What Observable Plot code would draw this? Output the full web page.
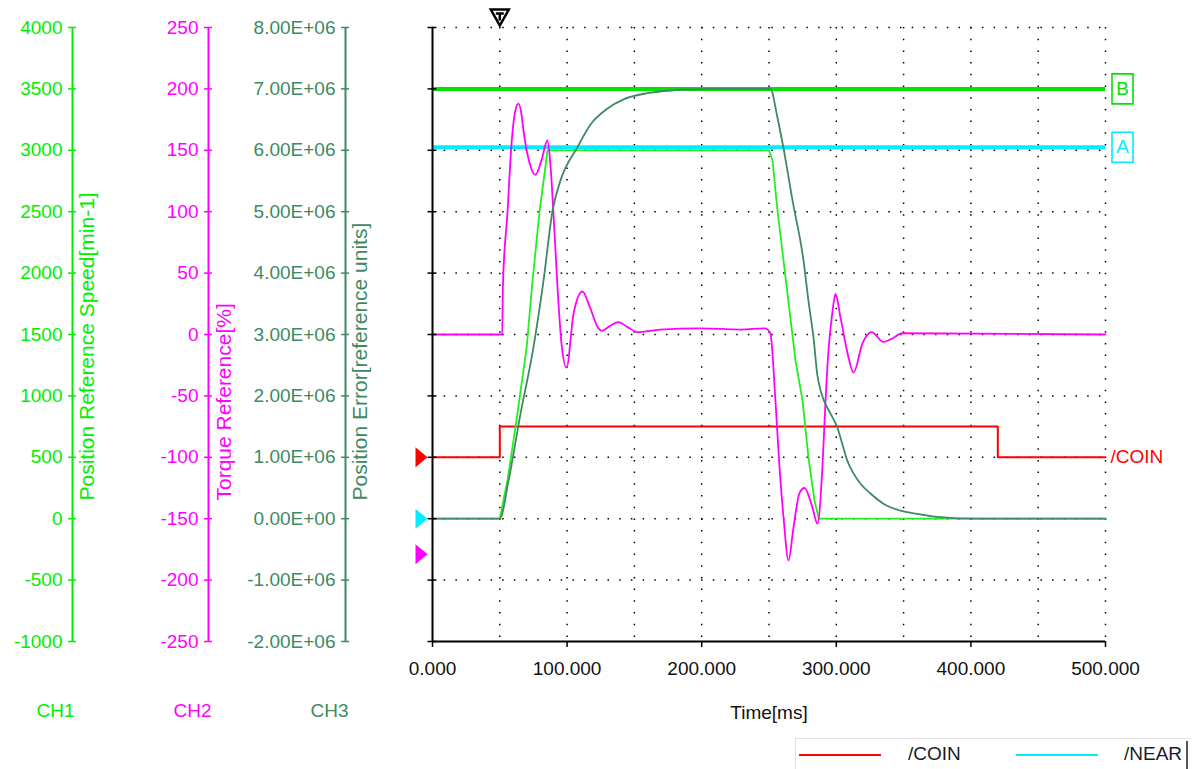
<!DOCTYPE html>
<html><head><meta charset="utf-8">
<script src="https://cdn.jsdelivr.net/npm/d3@7"></script>
<script src="https://cdn.jsdelivr.net/npm/@observablehq/plot@0.6"></script>
<style>
body{margin:0;background:#fff;width:1194px;height:769px;overflow:hidden;position:relative;font-family:"Liberation Sans",Arial,sans-serif;}
#chart svg{display:block;}
#legend{position:absolute;left:795px;top:738px;width:395px;height:40px;border-top:1px solid #e2e2e2;border-left:1px solid #e2e2e2;font-size:19px;color:#1b1b2b;}
#legend .ln{position:absolute;top:15px;height:2px;width:82px;}
#legend .tx{position:absolute;top:4px;}
#legend .edge{position:absolute;left:390px;top:2px;width:2px;height:40px;background:#555;}
</style></head><body>
<div id="chart"></div>
<div id="legend">
  <div class="ln" style="left:3px;background:#ff0000"></div>
  <div class="tx" style="left:112px">/COIN</div>
  <div class="ln" style="left:220px;background:#00eeff"></div>
  <div class="tx" style="left:328px">/NEAR</div>
  <div class="edge"></div>
</div>
<script>
// ---------- data ----------
const timeTicks = [0, 100, 200, 300, 400, 500];
const gridTimes = [50, 100, 150, 200, 250, 300, 350, 400, 450, 500];
const ch1Ticks = [-1000, -500, 0, 500, 1000, 1500, 2000, 2500, 3000, 3500, 4000];
const ch2Ticks = [-250, -200, -150, -100, -50, 0, 50, 100, 150, 200, 250];
const ch3Ticks = [-2e6, -1e6, 0, 1e6, 2e6, 3e6, 4e6, 5e6, 6e6, 7e6, 8e6];

// CH1 Position Reference Speed [min-1]
const speedTime  = [0, 50, 56, 63, 70, 74, 79.5, 85.5, 250, 252.6, 256.3, 262.3, 269.7, 274.9, 279.3, 283.8, 287, 500];
const speedValue = [0, 0, 330, 850, 1400, 1900, 2500, 3000, 3000, 2917, 2510, 1964, 1288, 963, 498, 148, 0, 0];

// CH2 Torque Reference [%]
const torqueTime  = [0, 51.8, 52.3, 55.7, 58.7, 61.5, 63.9, 66, 67.6, 72, 76.5, 81, 85.4, 87.5, 89.9, 92.9, 95.8, 99.6, 104.8, 111.4, 117, 123.3, 125.7, 132, 138, 145, 152, 169, 199, 229, 247, 251, 254.8, 257.8, 260.8, 264.5, 268.2, 272.7, 276.4, 282.3, 286, 289.7, 292, 294.2, 297.2, 299.4, 303.1, 308.3, 312.8, 319.5, 326.2, 335.1, 340.3, 349.2, 500];
const torqueValue = [0, 0, 40, 99, 155, 182, 188, 180, 166, 140, 130, 142, 158, 140, 98, 38, -7, -27, 17, 35, 22, 5, 3, 7, 10, 6, 2, 4, 5, 4, 5, 1, -54, -108, -149, -184, -157, -129, -125, -141, -154, -108, -54, -13, 19, 33, 14, -15, -31, -7, 2, -6, -4, 1, 0];

// CH3 Position Error [reference units]
const errorTime  = [0, 50, 56.5, 65.4, 75, 82.5, 89.2, 95.1, 107.7, 117.4, 130, 141.9, 159.7, 174.6, 189.4, 206.5, 251, 256.3, 260.8, 267.5, 275.6, 279.3, 283.3, 285.8, 288.3, 290.7, 295.7, 300.7, 304.4, 308.1, 313, 318, 325.4, 335.3, 347.7, 360.1, 375, 405, 500];
const errorValue = [0, 0, 0.62e6, 1.71e6, 2.79e6, 3.88e6, 5.02e6, 5.51e6, 6.05e6, 6.42e6, 6.68e6, 6.83e6, 6.93e6, 6.97e6, 6.99e6, 7.0e6, 7.0e6, 6.53e6, 6.03e6, 5.18e6, 4.21e6, 3.55e6, 2.90e6, 2.36e6, 2.09e6, 1.93e6, 1.71e6, 1.49e6, 1.22e6, 0.95e6, 0.73e6, 0.57e6, 0.41e6, 0.24e6, 0.13e6, 0.08e6, 0.03e6, 0, 0];

// /COIN digital signal
const coinTime  = [0, 50, 420, 500];
const coinState = [0, 1, 0, 0];

// cursors (CH3 units)
const cursorNames  = ["B", "A"];
const cursorValues = [7.0e6, 6.05e6];
const triggerTime = 50;
// channel offset markers (CH1 units)
const markerLevels = [500, 0, -290];

// ---------- styles ----------
const FONT = "'Liberation Sans', Arial, sans-serif";
const C1 = "#00ee00", C2 = "#ff00ff", C3 = "#3d8a62", RED = "#ff0000", CYAN = "#00eeff", BGREEN = "#00e400";

// channel mappings onto the shared (CH1) vertical scale
const y2 = v => 10 * v + 1500;     // torque % -> CH1 units
const y3 = v => v * 5e-4;          // position error -> CH1 units
const yCoin = s => 500 + 250 * s;

function fmtE(v) {
  if (v === 0) return "0.00E+00";
  const e = Math.floor(Math.log10(Math.abs(v)));
  const m = v / Math.pow(10, e);
  return m.toFixed(2) + "E" + (e < 0 ? "-" : "+") + String(Math.abs(e)).padStart(2, "0");
}

const triRight = {draw(ctx) { ctx.moveTo(-6, -10); ctx.lineTo(6, 0); ctx.lineTo(-6, 10); ctx.closePath(); }};
const boxSym = {draw(ctx) { ctx.moveTo(-10.5, -15); ctx.lineTo(10.5, -15); ctx.lineTo(10.5, 15); ctx.lineTo(-10.5, 15); ctx.closePath(); }};
const trigSym = {draw(ctx) {
  ctx.moveTo(-9, -7); ctx.lineTo(9, -7); ctx.lineTo(0, 9); ctx.closePath();
  ctx.moveTo(-4, -3); ctx.lineTo(4, -3); ctx.moveTo(0, -3); ctx.lineTo(0, 4);
}};

const idx = a => d3.range(a.length);
const dotGrid = {stroke: "#000", strokeWidth: 1.5, strokeDasharray: "1.5,10.2"};

const chart = Plot.plot({
  width: 1194, height: 736,
  marginLeft: 432, marginRight: 89, marginTop: 27, marginBottom: 95,
  x: {domain: [0, 500], axis: null},
  y: {domain: [-1000, 4000], axis: null},
  style: {fontFamily: FONT, fontSize: "19px", background: "#fff", color: "#000", overflow: "visible"},
  marks: [
    // dotted grid
    Plot.ruleX(gridTimes, dotGrid),
    Plot.ruleY(ch1Ticks.filter(d => d > -1000), dotGrid),

    // cursors
    Plot.ruleY(idx(cursorValues), {y: i => y3(cursorValues[i]), stroke: i => i === 0 ? BGREEN : CYAN, strokeWidth: 4}),

    // signals
    Plot.line(idx(coinTime), {x: i => coinTime[i], y: i => yCoin(coinState[i]), curve: "step-after", stroke: RED, strokeWidth: 2}),
    Plot.line(idx(speedTime), {x: i => speedTime[i], y: i => speedValue[i], stroke: "#22ee22", strokeWidth: 1.8}),
    Plot.line(idx(torqueTime), {x: i => torqueTime[i], y: i => y2(torqueValue[i]), curve: "monotone-x", stroke: C2, strokeWidth: 1.8}),
    Plot.line(idx(errorTime), {x: i => errorTime[i], y: i => y3(errorValue[i]), curve: "monotone-x", stroke: C3, strokeWidth: 1.8}),

    // main frame axes
    Plot.ruleX([0], {stroke: "#000", strokeWidth: 2}),
    Plot.ruleY([-1000], {stroke: "#000", strokeWidth: 2}),
    Plot.axisY(ch1Ticks, {anchor: "left", tickSize: 9, dx: 4.5, stroke: "#000", strokeWidth: 1.5, fill: "none", tickFormat: () => "", label: null}),
    Plot.axisX(timeTicks, {anchor: "bottom", tickSize: 6, tickPadding: 14, stroke: "#000", strokeWidth: 1.5, fill: "#111", tickFormat: d => d.toFixed(3), label: null}),
    Plot.text(["Time[ms]"], {x: 250, y: -1000, dy: 71, fill: "#111"}),

    // CH1 axis
    Plot.ruleX([0], {y1: -1000, y2: 4000, dx: -360, stroke: C1, strokeWidth: 2}),
    Plot.axisY(ch1Ticks, {anchor: "left", tickSize: 8, tickPadding: 6, dx: -356, stroke: C1, strokeWidth: 1.5, fill: C1, tickFormat: d => String(d), label: null}),
    Plot.text(["Position Reference Speed[min-1]"], {x: 0, y: 148, dx: -345, rotate: -90, textAnchor: "start", fill: C1, fontSize: 21}),
    Plot.text(["CH1"], {x: 0, y: -1000, dx: -377, dy: 69, fill: C1}),

    // CH2 axis
    Plot.ruleX([0], {y1: -1000, y2: 4000, dx: -224, stroke: C2, strokeWidth: 2}),
    Plot.axisY(ch2Ticks.map(y2), {anchor: "left", tickSize: 8, tickPadding: 6, dx: -220, stroke: C2, strokeWidth: 1.5, fill: C2, tickFormat: d => String(Math.round((d - 1500) / 10)), label: null}),
    Plot.text(["Torque Reference[%]"], {x: 0, y: 148, dx: -208, rotate: -90, textAnchor: "start", fill: C2, fontSize: 21}),
    Plot.text(["CH2"], {x: 0, y: -1000, dx: -240, dy: 69, fill: C2}),

    // CH3 axis
    Plot.ruleX([0], {y1: -1000, y2: 4000, dx: -87, stroke: C3, strokeWidth: 2}),
    Plot.axisY(ch3Ticks.map(y3), {anchor: "left", tickSize: 8, tickPadding: 6, dx: -83, stroke: C3, strokeWidth: 1.5, fill: C3, tickFormat: d => fmtE(Math.round(d * 2000)), label: null}),
    Plot.text(["Position Error[reference units]"], {x: 0, y: 148, dx: -72, rotate: -90, textAnchor: "start", fill: C3, fontSize: 21}),
    Plot.text(["CH3"], {x: 0, y: -1000, dx: -103, dy: 69, fill: C3}),

    // channel markers on the left
    Plot.dot([markerLevels[0]], {x: 0, y: d => d, dx: -11, symbol: triRight, fill: RED, stroke: "none"}),
    Plot.dot([markerLevels[1]], {x: 0, y: d => d, dx: -11, symbol: triRight, fill: "#00eeff", stroke: "none"}),
    Plot.dot([markerLevels[2]], {x: 0, y: d => d, dx: -11, symbol: triRight, fill: C2, stroke: "none"}),

    // trigger marker
    Plot.dot([triggerTime], {x: d => d, y: 4000, dy: -11, symbol: trigSym, stroke: "#000", strokeWidth: 2.5, fill: "#fff"}),

    // cursor label boxes
    Plot.dot(idx(cursorValues), {x: 500, y: i => y3(cursorValues[i]), dx: 17, symbol: boxSym, stroke: i => i === 0 ? BGREEN : CYAN, strokeWidth: 1.6, fill: "#fff"}),
    Plot.text(idx(cursorValues), {x: 500, y: i => y3(cursorValues[i]), dx: 17, text: i => cursorNames[i], fill: i => i === 0 ? BGREEN : CYAN, fontSize: 19}),

    // /COIN label
    Plot.text(["/COIN"], {x: 500, y: yCoin(0), dx: 5, textAnchor: "start", fill: RED})
  ]
});
document.getElementById("chart").appendChild(chart);
</script>
</body></html>
